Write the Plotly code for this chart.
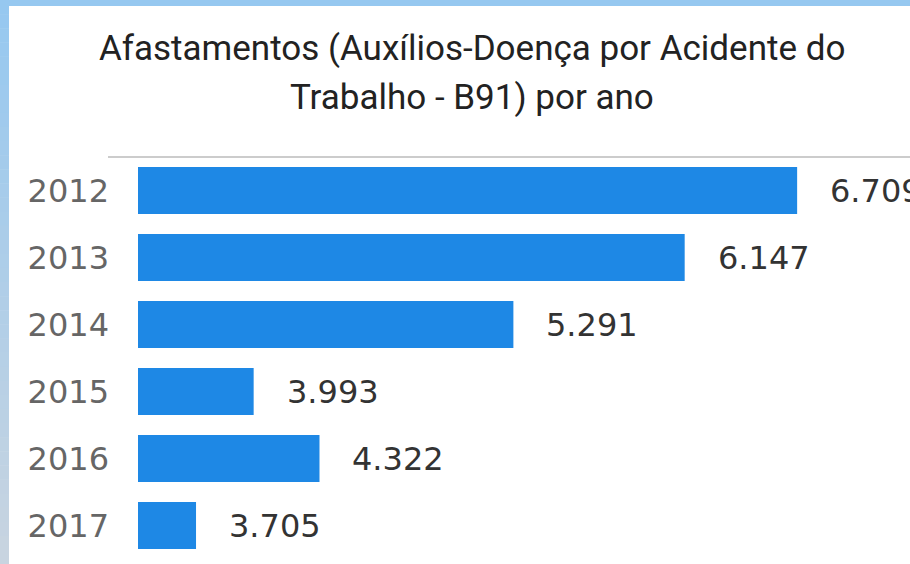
import plotly.graph_objects as go

years = ["2012", "2013", "2014", "2015", "2016", "2017"]
values = [6709, 6147, 5291, 3993, 4322, 3705]
title_lines = ["Afastamentos (Auxílios-Doença por Acidente do", "Trabalho - B91) por ano"]

W, H = 910, 564
L, R, T, B = 138, 0, 157, 5
PW, PH = W - L - R, H - T - B


def px_x(p):
    return (p - L) / PW


def px_y(p):
    return 1 - (p - T) / PH


def fmt(v):
    return f"{v:,}".replace(",", ".")


fig = go.Figure(
    go.Bar(
        x=values,
        y=years,
        orientation="h",
        marker=dict(color="#1E88E5", line=dict(width=0)),
        hoverinfo="skip",
    )
)

shapes = []
# left border strip with vertical gradient (stepped)
n = 40
c0 = (150, 200, 240)
c1 = (200, 212, 224)
for i in range(n):
    f = i / (n - 1)
    col = "rgb(%d,%d,%d)" % tuple(round(a + (b - a) * f) for a, b in zip(c0, c1))
    y0 = H * i / n
    y1 = H * (i + 1) / n + 0.5
    shapes.append(dict(type="rect", xref="paper", yref="paper",
                       x0=px_x(0), x1=px_x(9), y0=px_y(y0), y1=px_y(y1),
                       fillcolor=col, line=dict(width=0), layer="below"))
# top strip
shapes.append(dict(type="rect", xref="paper", yref="paper",
                   x0=px_x(0), x1=px_x(W), y0=px_y(0), y1=px_y(6),
                   fillcolor="rgb(150,200,240)", line=dict(width=0), layer="below"))
# top separator line
shapes.append(dict(type="line", xref="paper", yref="paper",
                   x0=px_x(108), x1=px_x(W), y0=px_y(157), y1=px_y(157),
                   line=dict(color="#CCCCCC", width=2)))

annotations = []
for i, v in enumerate(values):
    annotations.append(dict(x=v, y=i, xref="x", yref="y", text=fmt(v),
                            showarrow=False, xanchor="left", yanchor="middle",
                            xshift=31,
                            font=dict(family="DejaVu Sans", size=32, color="#333333")))
annotations.append(dict(x=px_x(472), y=px_y(48), xref="paper", yref="paper",
                        text=title_lines[0], showarrow=False, xanchor="center", yanchor="middle",
                        font=dict(family="Roboto", size=35, color="#222222")))
annotations.append(dict(x=px_x(472), y=px_y(97), xref="paper", yref="paper",
                        text=title_lines[1], showarrow=False, xanchor="center", yanchor="middle",
                        font=dict(family="Roboto", size=35, color="#222222")))

fig.update_layout(
    width=W, height=H,
    margin=dict(l=L, r=R, t=T, b=B, pad=0, autoexpand=False),
    paper_bgcolor="white",
    plot_bgcolor="white",
    showlegend=False,
    bargap=0.3,
    shapes=shapes,
    annotations=annotations,
    xaxis=dict(range=[3415, 7273], visible=False, fixedrange=True),
    yaxis=dict(type="category", categoryorder="array", categoryarray=years,
               range=[len(years) - 0.5, -0.5], autorange=False, automargin=False,
               ticks="", showgrid=False, fixedrange=True,
               showline=False, zeroline=False, ticklabelstandoff=28,
               tickfont=dict(family="DejaVu Sans", size=32, color="#666666")),
)

fig.write_html("out.html", config={"displayModeBar": False},
               post_script="document.body.style.margin='0';document.body.style.overflow='hidden';")
